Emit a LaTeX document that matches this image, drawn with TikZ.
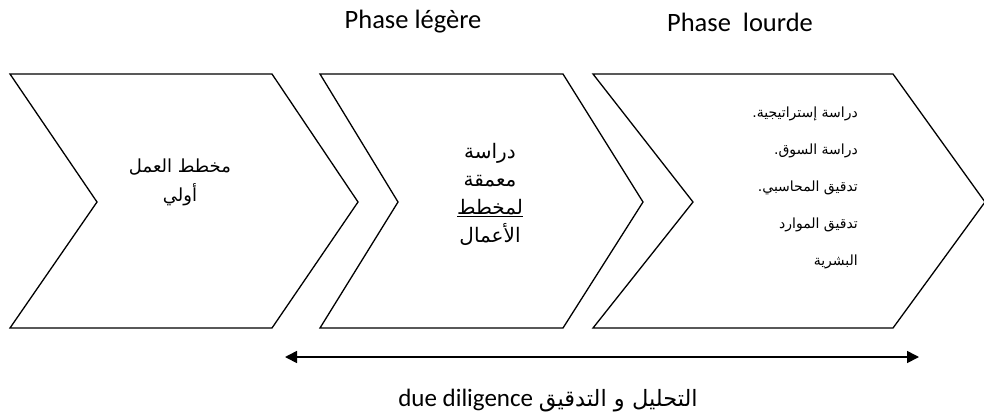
\documentclass[tikz,border=0pt]{standalone}
\usepackage{fontspec}
\setmainfont{Carlito}
\newfontfamily\arabicfont[Script=Arabic]{DejaVu Sans}
\TeXXeTstate=1
\usetikzlibrary{arrows.meta}
\begin{document}
\begin{tikzpicture}[x=1pt,y=-1pt,
  chevron/.style={draw=black,line width=1.3pt,line join=miter,fill=white},
  phaselabel/.style={font=\fontsize{26.5}{30}\selectfont,inner sep=0pt},
  stagetext/.style={font=\arabicfont\fontsize{18}{29}\selectfont,align=center,inner sep=0pt},
  listtext/.style={font=\arabicfont\fontsize{14}{37}\selectfont,align=right,inner sep=0pt},
  span/.style={line width=1.6pt,{Triangle[length=12pt,width=12pt]}-{Triangle[length=12pt,width=12pt]}}]
\useasboundingbox (0,0) rectangle (984,418);
\begin{scope}
\clip (0,0) rectangle (984,418);
% three stage chevrons
\draw[chevron] (10,74) -- (272,74) -- (358,202) -- (272,328) -- (10,328) -- (97,202) -- cycle;
\draw[chevron] (320,74) -- (563,74) -- (643,202) -- (563,328) -- (320,328) -- (398,202) -- cycle;
\draw[chevron] (593,74) -- (893,74) -- (985,202) -- (893,328) -- (593,328) -- (693,202) -- cycle;
\end{scope}

% phase headings
\node[phaselabel] (light) at (413,22) {Phase légère};
\node[phaselabel] (heavy) at (740,22) {Phase\ \ lourde};

% stage contents
\node[stagetext] (s1) at (180,182) {\beginR مخطط العمل\endR\\ \beginR أولي\endR};
\node[stagetext,font=\arabicfont\fontsize{20}{28}\selectfont] (s2) at (490,194)
  {\beginR دراسة\endR\\ \beginR معمقة\endR\\ \underline{\beginR لمخطط\endR}\\ \beginR الأعمال\endR};
\node[listtext,anchor=east] (s3) at (858,188)
  {\beginR دراسة إستراتيجية.\endR\\ \beginR دراسة السوق.\endR\\ \beginR تدقيق المحاسبي.\endR\\ \beginR تدقيق الموارد\endR\\ \beginR البشرية\endR};

% due diligence span
\coordinate (spanL) at (285,357);
\coordinate (spanR) at (919,357);
\draw[span] (spanL) -- (spanR);
\node[phaselabel,font=\fontsize{25}{30}\selectfont] (dd) at (548,401) {due diligence {\arabicfont\fontsize{22.5}{28}\selectfont\beginR التحليل و التدقيق\endR}};
\end{tikzpicture}
\end{document}
